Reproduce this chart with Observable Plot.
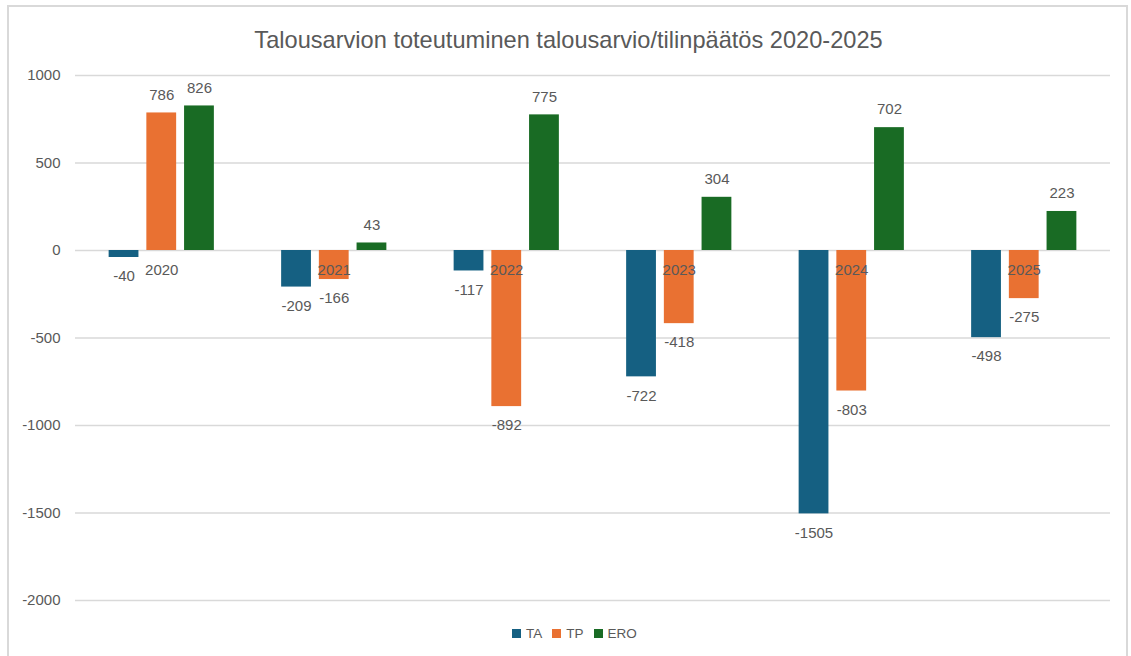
<!DOCTYPE html>
<html>
<head>
<meta charset="utf-8">
<script src="https://cdn.jsdelivr.net/npm/d3@7"></script>
<script src="https://cdn.jsdelivr.net/npm/@observablehq/plot@0.6"></script>
<style>
  html, body { margin: 0; padding: 0; background: #fff; }
  #wrap { position: relative; width: 1131px; height: 656px; overflow: hidden; }
  #frame { position: absolute; left: 7px; top: 5px; width: 1121px; height: 700px; border: 2px solid #d9d9d9; box-sizing: border-box; }
  #title { position: absolute; left: 8px; width: 1121px; top: 25px; text-align: center;
    font-family: "Liberation Sans Narrow", "Arial Narrow", "Liberation Sans", sans-serif; font-size: 23.6px; color: #595959; line-height: 30px; }
  #grid, #chart { position: absolute; left: 0; top: 0; }
  #legend { position: absolute; top: 626px; left: 512px; display: flex; align-items: center;
    font-family: "Liberation Sans", Arial, sans-serif; font-size: 13.5px; color: #595959; }
  #legend .item { display: flex; align-items: center; margin-right: 10px; }
  #legend .sw { width: 9px; height: 9px; margin-right: 5px; }
</style>
</head>
<body>
<div id="wrap">
  <div id="frame"></div>
  <div id="title">Talousarvion toteutuminen talousarvio/tilinpäätös 2020-2025</div>
  <div id="grid"></div>
  <div id="chart"></div>
  <div id="legend"></div>
</div>
<script>
const years = ["2020", "2021", "2022", "2023", "2024", "2025"];
const series = ["TA", "TP", "ERO"];
const colors = ["#156082", "#E97132", "#196B24"];
const taValues = [-40, -209, -117, -722, -1505, -498];
const tpValues = [786, -166, -892, -418, -803, -275];
const eroValues = [826, 43, 775, 304, 702, 223];
const yTicks = [-2000, -1500, -1000, -500, 0, 500, 1000];

const valuesBySeries = {TA: taValues, TP: tpValues, ERO: eroValues};
const data = [];
years.forEach((y, i) => {
  series.forEach(s => data.push({year: y, series: s, value: valuesBySeries[s][i]}));
});

const common = {
  width: 1131,
  height: 656,
  marginTop: 75,
  marginBottom: 56,
  marginLeft: 75,
  marginRight: 21,
  style: {fontFamily: "'Liberation Sans', Arial, sans-serif", fontSize: "15px", color: "#595959", background: "transparent"}
};

// Background: gridlines and y tick labels across the full frame
const grid = Plot.plot({
  ...common,
  y: {domain: [-2000, 1000], axis: null},
  marks: [
    Plot.ruleY(yTicks, {y: d => d, stroke: "#d9d9d9", strokeWidth: 1.5}),
    Plot.text(yTicks, {y: d => d, text: d => String(d), frameAnchor: "left", dx: -15, textAnchor: "end", fill: "#595959"})
  ]
});
document.getElementById("grid").appendChild(grid);

// Foreground: grouped bars and labels
const plot = Plot.plot({
  ...common,
  fx: {domain: years, paddingInner: 0.39, paddingOuter: 0.195, round: false, axis: null, label: null},
  x: {domain: series, paddingInner: 0.21, paddingOuter: 0, round: false, axis: null, label: null},
  y: {domain: [-2000, 1000], axis: null},
  color: {domain: series, range: colors},
  marks: [
    Plot.barY(data, {fx: "year", x: "series", y1: 0, y2: "value", fill: "series"}),
    Plot.text(years, {fx: d => d, y: d => 0, text: d => d, dy: 20, fill: "#595959"}),
    Plot.text(data.filter(d => d.value >= 0), {fx: "year", x: "series", y: "value", text: d => String(d.value), dy: -18, fill: "#595959"}),
    Plot.text(data.filter(d => d.value < 0), {fx: "year", x: "series", y: "value", text: d => String(d.value), dy: 19, fill: "#595959"})
  ]
});
document.getElementById("chart").appendChild(plot);

const legend = document.getElementById("legend");
series.forEach((s, i) => {
  const item = document.createElement("div");
  item.className = "item";
  const sw = document.createElement("div");
  sw.className = "sw";
  sw.style.background = colors[i];
  const lab = document.createElement("span");
  lab.textContent = s;
  item.appendChild(sw);
  item.appendChild(lab);
  legend.appendChild(item);
});
</script>
</body>
</html>
